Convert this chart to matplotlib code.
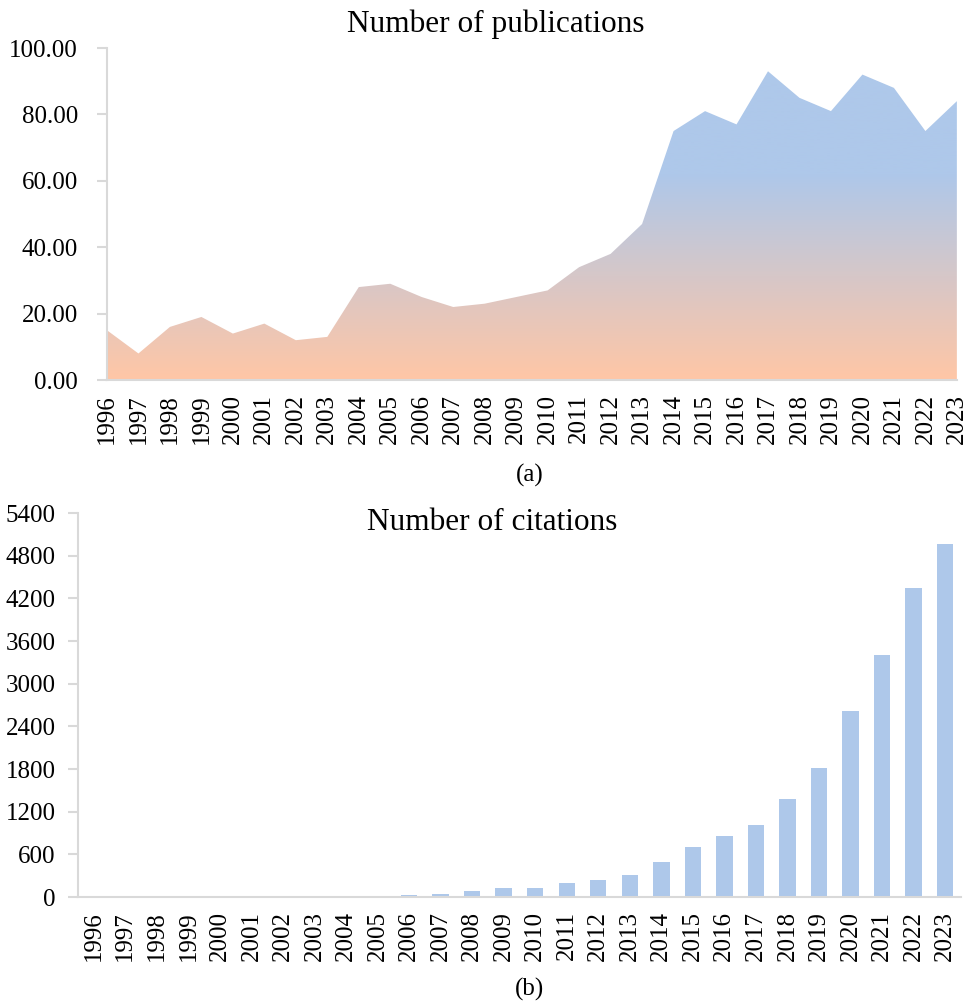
import matplotlib
matplotlib.use("Agg")
import matplotlib.pyplot as plt
import numpy as np
from matplotlib.colors import LinearSegmentedColormap

plt.rcParams['font.family'] = ['Liberation Serif', 'DejaVu Serif']

years = [str(y) for y in range(1996, 2024)]
publications = [15, 8, 16, 19, 14, 17, 12, 13, 28, 29, 25, 22, 23, 25, 27, 34,
                38, 47, 75, 81, 77, 93, 85, 81, 92, 88, 75, 84]
citations = [0, 0, 1, 2, 3, 8, 10, 12, 14, 15, 28, 40, 80, 122, 130, 198,
             240, 310, 495, 705, 860, 1015, 1382, 1820, 2620, 3400, 4345, 4965]

orange = "#FFC6A6"
blue = "#AEC8EA"
spine_col = "#D9D9D9"

fig = plt.figure(figsize=(9.68, 10.07), dpi=100)

# --- (a) publications, area with vertical gradient
ax1 = fig.add_axes([0.1105, 0.6226, 0.878, 0.3297])
x = np.arange(len(years))
cmap = LinearSegmentedColormap.from_list("pub", [orange, blue])
grad = np.linspace(0, 1, 256).reshape(-1, 1)
grad = np.clip(grad * 100 / 62, 0, 1)
img = ax1.imshow(grad, cmap=cmap, origin="lower", aspect="auto",
                 extent=[0, len(years) - 1, 0, 100], vmin=0, vmax=1)
poly = ax1.fill_between(x, publications, 0, color="none", lw=0)
clip = poly.get_paths()[0]
img.set_clip_path(clip, transform=ax1.transData)

ax1.set_xlim(0, len(years) - 1)
ax1.set_ylim(0, 100)
ax1.set_yticks(np.arange(0, 101, 20))
ax1.set_yticklabels([f"{v:.2f}" for v in np.arange(0, 101, 20)])
ax1.set_xticks(x)
ax1.set_xticklabels(years, rotation=90)

# --- (b) citations, bars
ax2 = fig.add_axes([0.0806, 0.1092, 0.912, 0.3813])
ax2.bar(x, citations, width=0.52, color=blue)
ax2.set_xlim(-0.5, len(years) - 0.5)
ax2.set_ylim(0, 5400)
ax2.set_yticks(np.arange(0, 5401, 600))
ax2.set_xticks(x)
ax2.set_xticklabels(years, rotation=90)

for ax, ypad in ((ax1, 14), (ax2, 9)):
    for s in ["top", "right"]:
        ax.spines[s].set_visible(False)
    for s in ["left", "bottom"]:
        ax.spines[s].set_color(spine_col)
        ax.spines[s].set_linewidth(1.5)
    ax.tick_params(axis="y", length=7, width=1.5, color=spine_col,
                   labelsize=18, pad=ypad)
    ax.tick_params(axis="x", length=0, labelsize=18, pad=10)

fig.text(0.512, 0.976, "Number of publications", ha="center", va="center",
         fontsize=22.5)
fig.text(0.508, 0.481, "Number of citations", ha="center", va="center",
         fontsize=22.5)
fig.text(0.547, 0.528, "(a)", ha="center", va="center", fontsize=18)
fig.text(0.547, 0.017, "(b)", ha="center", va="center", fontsize=18)

fig.savefig("out.png", dpi=100)
